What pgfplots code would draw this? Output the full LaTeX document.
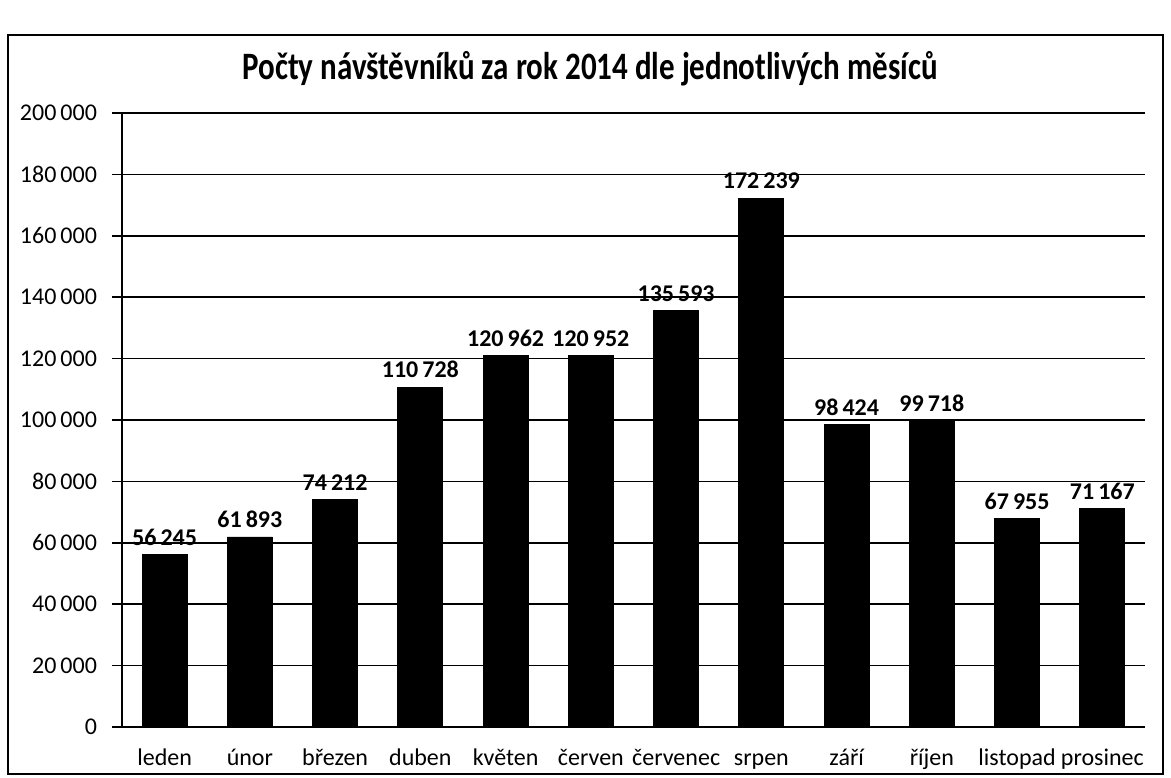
\documentclass[border=0pt]{standalone}
\usepackage{pgfplots}
\pgfplotsset{compat=1.18}
\usepackage{fontspec}
\setmainfont{Carlito}
\begin{document}
\begin{tikzpicture}
\useasboundingbox (0,0) rectangle (585.5pt,388.5pt);
\draw[line width=1pt] (4pt,1.5pt) rectangle (581.5pt,371pt);
\node[font=\bfseries\fontsize{15.5}{18}\selectfont, yscale=1.25, transform shape] at (295pt,354pt) {Počty návštěvníků za rok 2014 dle jednotlivých měsíců};
\begin{axis}[
  at={(61pt,25pt)}, anchor=south west,
  scale only axis, width=511.5pt, height=307pt,
  ymin=0, ymax=200000, ytick={0,20000,...,200000},
  yticklabels={0,20\,000,40\,000,60\,000,80\,000,100\,000,120\,000,140\,000,160\,000,180\,000,200\,000},
  xmin=-0.5, xmax=11.5,
  axis x line*=bottom, axis y line*=left,
  axis line style={line width=0.9pt, -},
  ymajorgrids, grid style={black, line width=0.8pt},
  xtick={0,...,11},
  xticklabels={leden,únor,březen,duben,květen,červen,červenec,srpen,září,říjen,listopad,prosinec},
  major x tick style={draw=none},
  extra x ticks={-0.5,0.5,...,11.5}, extra x tick labels={},
  extra x tick style={major tick length=5pt, tick align=outside, tick style={black, line width=0.8pt}, grid=none},
  ytick style={black, line width=0.8pt}, ytick align=outside, major tick length=5pt,
  xtick align=inside,
  scaled y ticks=false,
  ticklabel style={font=\fontsize{12}{14}\selectfont},
  yticklabel style={xshift=-4pt},
  xticklabel style={text height=1.6ex, text depth=0.3ex, anchor=north, yshift=-3pt},
  ybar, bar width=22.5pt,
  point meta=explicit symbolic,
  nodes near coords,
  nodes near coords style={font=\bfseries\fontsize{12}{14}\selectfont, black, yshift=1pt},
  clip=false,
]
\addplot[fill=black, draw=black] coordinates {
(0,56245) [56\,245] (1,61893) [61\,893] (2,74212) [74\,212] (3,110728) [110\,728]
(4,120962) [120\,962] (5,120952) [120\,952] (6,135593) [135\,593] (7,172239) [172\,239]
(8,98424) [98\,424] (9,99718) [99\,718] (10,67955) [67\,955] (11,71167) [71\,167]};
\end{axis}
\end{tikzpicture}
\end{document}
